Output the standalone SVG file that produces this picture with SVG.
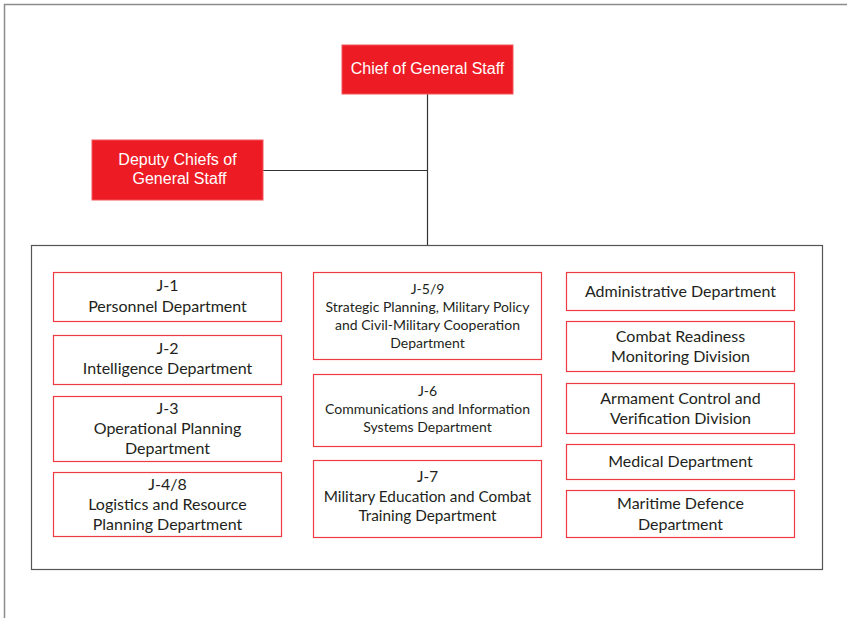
<svg xmlns="http://www.w3.org/2000/svg" width="847" height="618" viewBox="0 0 847 618">
  <style>
    .head rect { fill: #ed1c24; stroke: #f2545a; stroke-width: 1; }
    .head text { fill: #ffffff; font-family: "Liberation Sans", Arial, sans-serif; font-size: 16px; text-anchor: middle; }
    .unit rect { fill: #ffffff; stroke: #ee3b43; stroke-width: 1.2; }
    .unit text { fill: #231f20; font-family: Lato, "Open Sans", sans-serif; font-size: 16px; text-anchor: middle; }
    .unit text.sm { font-size: 14px; }
    .unit text.md { font-size: 15.3px; }
    .link { stroke: #333333; stroke-width: 1.2; fill: none; }
  </style>

  <!-- page frame -->
  <path d="M4.5 618 V4.5 H847" fill="none" stroke="#8c8c8c" stroke-width="1.5"/>

  <!-- container for the staff departments -->
  <rect id="departments" x="31.5" y="245.5" width="791" height="324" fill="#ffffff" stroke="#555555" stroke-width="1.2"/>

  <g id="connectors">
    <line class="link" x1="427.5" y1="94" x2="427.5" y2="245"/>
    <line class="link" x1="263" y1="170.5" x2="427.5" y2="170.5"/>
  </g>

  <g id="chief" class="head">
    <rect x="342" y="45" width="171" height="49"/>
    <text x="427.5" y="74">Chief of General Staff</text>
  </g>

  <g id="deputy" class="head">
    <rect x="92" y="140" width="171" height="60"/>
    <text x="177.5" y="165">Deputy Chiefs of</text>
    <text x="179.5" y="184">General Staff</text>
  </g>

  <!-- left column -->
  <g id="j1" class="unit">
    <rect x="53.5" y="272.5" width="228" height="49"/>
    <text x="167.5" y="291">J-1</text>
    <text x="167.5" y="312">Personnel Department</text>
  </g>
  <g id="j2" class="unit">
    <rect x="53.5" y="335.5" width="228" height="49"/>
    <text x="167.5" y="354">J-2</text>
    <text x="167.5" y="374">Intelligence Department</text>
  </g>
  <g id="j3" class="unit">
    <rect x="53.5" y="396.5" width="228" height="65"/>
    <text x="167.5" y="414">J-3</text>
    <text x="167.5" y="434">Operational Planning</text>
    <text x="167.5" y="454">Department</text>
  </g>
  <g id="j48" class="unit">
    <rect x="53.5" y="472.5" width="228" height="64"/>
    <text x="167.5" y="490">J-4/8</text>
    <text x="167.5" y="510">Logistics and Resource</text>
    <text x="167.5" y="530">Planning Department</text>
  </g>

  <!-- middle column -->
  <g id="j59" class="unit">
    <rect x="313.5" y="272.5" width="228" height="87"/>
    <text class="sm" x="427.5" y="294">J-5/9</text>
    <text class="sm" x="427.5" y="312">Strategic Planning, Military Policy</text>
    <text class="sm" x="427.5" y="330">and Civil-Military Cooperation</text>
    <text class="sm" x="427.5" y="348">Department</text>
  </g>
  <g id="j6" class="unit">
    <rect x="313.5" y="374.5" width="228" height="72"/>
    <text class="sm" x="427.5" y="396">J-6</text>
    <text class="sm" x="427.5" y="414">Communications and Information</text>
    <text class="sm" x="427.5" y="432">Systems Department</text>
  </g>
  <g id="j7" class="unit">
    <rect x="313.5" y="460.5" width="228" height="77"/>
    <text class="md" x="427.5" y="482">J-7</text>
    <text class="md" x="427.5" y="502">Military Education and Combat</text>
    <text class="md" x="427.5" y="521">Training Department</text>
  </g>

  <!-- right column -->
  <g id="admin" class="unit">
    <rect x="566.5" y="272.5" width="228" height="38"/>
    <text x="680.5" y="297">Administrative Department</text>
  </g>
  <g id="readiness" class="unit">
    <rect x="566.5" y="321.5" width="228" height="50"/>
    <text x="680.5" y="342">Combat Readiness</text>
    <text x="680.5" y="362">Monitoring Division</text>
  </g>
  <g id="armament" class="unit">
    <rect x="566.5" y="383.5" width="228" height="50"/>
    <text x="680.5" y="404">Armament Control and</text>
    <text x="680.5" y="424">Verification Division</text>
  </g>
  <g id="medical" class="unit">
    <rect x="566.5" y="444.5" width="228" height="35"/>
    <text x="680.5" y="467">Medical Department</text>
  </g>
  <g id="maritime" class="unit">
    <rect x="566.5" y="490.5" width="228" height="47"/>
    <text x="680.5" y="509">Maritime Defence</text>
    <text x="680.5" y="530">Department</text>
  </g>
</svg>
